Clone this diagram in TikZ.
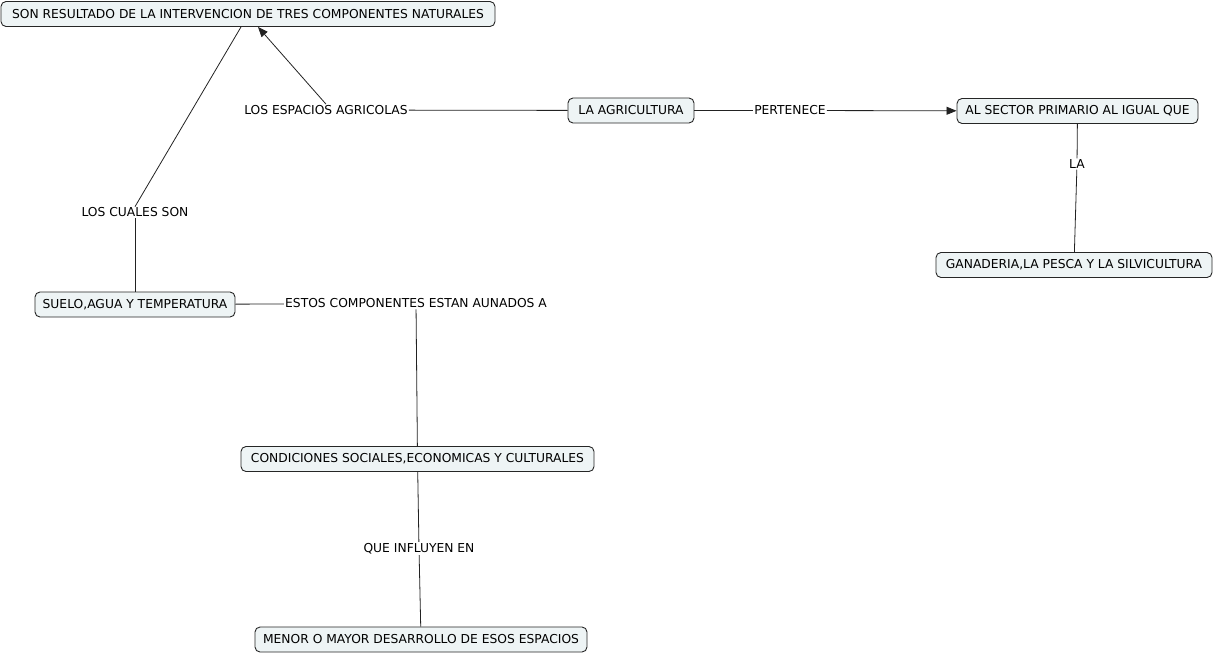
\documentclass[tikz,border=0pt]{standalone}
\usepackage{fontspec}
\setmainfont{DejaVu Sans}
\usetikzlibrary{arrows.meta}
\definecolor{boxfill}{HTML}{EEF4F5}
\definecolor{lnk}{HTML}{222222}
\begin{document}
\begin{tikzpicture}[x=1pt,y=-1pt,
  font=\fontsize{12.3}{14}\selectfont,
  concept/.style={draw=black!85,fill=boxfill,rounded corners=5pt,line width=0.9pt,minimum height=25pt,inner xsep=0pt,inner ysep=0pt},
  linklbl/.style={inner sep=1pt},
  conn/.style={draw=lnk,line width=0.8pt},
  arr/.style={conn,-{Triangle[length=10pt,width=8pt]}}]
\useasboundingbox (0,0) rectangle (1215,654);
% concepts
\node[concept,minimum width=494pt] (n1) at (248,14) {SON RESULTADO DE LA INTERVENCION DE TRES COMPONENTES NATURALES};
\node[concept,minimum width=126pt] (agri) at (631,110.5) {LA AGRICULTURA};
\node[concept,minimum width=241pt] (sector) at (1077.5,111) {AL SECTOR PRIMARIO AL IGUAL QUE};
\node[concept,minimum width=276pt] (gana) at (1074,265) {GANADERIA,LA PESCA Y LA SILVICULTURA};
\node[concept,minimum width=200pt] (suelo) at (135,304.5) {SUELO,AGUA Y TEMPERATURA};
\node[concept,minimum width=353pt] (cond) at (417.5,459) {CONDICIONES SOCIALES,ECONOMICAS Y CULTURALES};
\node[concept,minimum width=332pt] (menor) at (421,639.5) {MENOR O MAYOR DESARROLLO DE ESOS ESPACIOS};
% link labels
\node[linklbl] (l1) at (326,110) {LOS ESPACIOS AGRICOLAS};
\node[linklbl] (l2) at (790,110.5) {PERTENECE};
\node[linklbl] (l3) at (1077,164) {LA};
\node[linklbl] (l4) at (135,212.5) {LOS CUALES SON};
\node[linklbl] (l5) at (416,303.5) {ESTOS COMPONENTES ESTAN AUNADOS A};
\node[linklbl] (l6) at (419,548.5) {QUE INFLUYEN EN};
% connectors
\draw[conn] (agri) -- (l1);
\draw[arr] (l1.north) -- (n1.south -| 258,0);
\draw[conn] (agri) -- (l2);
\draw[arr] (l2) -- (sector);
\draw[conn] (sector) -- (l3);
\draw[conn] (l3) -- (gana);
\draw[conn] (n1.south -| 241,0) -- (l4.north);
\draw[conn] (l4) -- (suelo);
\draw[conn] (suelo) -- (l5);
\draw[conn] (l5) -- (cond);
\draw[conn] (cond) -- (l6);
\draw[conn] (l6) -- (menor);
\end{tikzpicture}
\end{document}
